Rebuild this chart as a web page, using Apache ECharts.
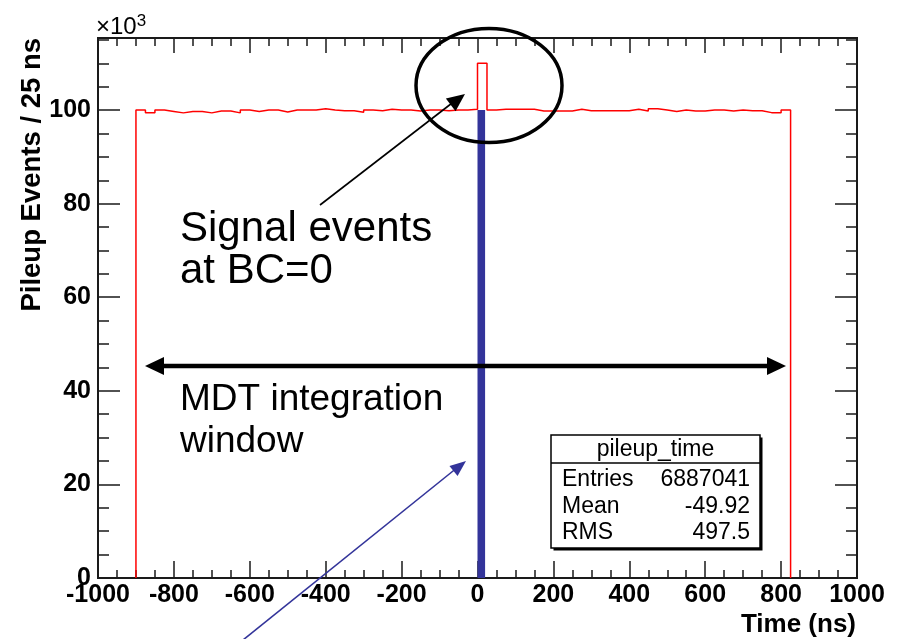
<!DOCTYPE html>
<html>
<head>
<meta charset="utf-8">
<script src="https://cdn.jsdelivr.net/npm/echarts@6/dist/echarts.min.js"></script>
<style>
  html, body { margin: 0; padding: 0; background: #fff; }
  #chart { width: 899px; height: 639px; }
</style>
</head>
<body>
<div id="chart"></div>
<script>
// Histogram of pileup event times, 25 ns bins, counts in thousands
const binLow = -900;
const binWidth = 25;
const counts = [
  100.0, 99.4, 100.0, 99.7, 99.4, 99.7, 99.7, 99.4, 99.8, 99.8,
  99.4, 100.0, 99.7, 100.0, 100.0, 99.6, 100.0, 100.0, 100.0, 100.3,
  100.0, 99.85, 99.85, 99.55, 100.0, 99.85, 100.15, 100.0, 100.0, 99.8,
  100.0, 100.0, 99.85, 100.0, 100.0, 100.15, 110.0, 100.0, 100.15, 100.15,
  100.15, 100.15, 99.8, 99.8, 99.8, 99.8, 100.15, 99.85, 99.85, 99.85,
  99.85, 99.85, 100.15, 99.8, 100.3, 100.0, 99.7, 100.0, 99.8, 99.8,
  100.0, 100.0, 99.8, 100.0, 99.85, 99.85, 99.45, 99.45, 100.0
];

// Signal bunch crossing (BC=0) bar
const signalRange = [0, 20];
const signalLevel = 100;

// Axis settings
const xRange = [-1000, 1000];
const xMajor = 200;
const yRange = [0, 115.4];
const yMajor = 20;
const yMinor = 5;

// Statistics box
const statsTitle = 'pileup_time';
const statsNames = ['Entries', 'Mean', 'RMS'];
const statsValues = ['6887041', '-49.92', '497.5'];

// Step outline points: each bin starts at its low edge
const outline = [[binLow, 0]];
counts.forEach((c, i) => outline.push([binLow + i * binWidth, c]));
const binHigh = binLow + counts.length * binWidth;
outline.push([binHigh, counts[counts.length - 1]]);
outline.push([binHigh, 0]);

const FONT = '"Liberation Sans", Arial, Helvetica, sans-serif';
const AX = '#1a1a1a';

const chart = echarts.init(document.getElementById('chart'), null, { renderer: 'canvas' });

function arrowHead(x1, y1, x2, y2, len, half) {
  const dx = x2 - x1, dy = y2 - y1;
  const d = Math.sqrt(dx * dx + dy * dy);
  const ux = dx / d, uy = dy / d;
  const bx = x2 - ux * len, by = y2 - uy * len;
  return [[x2, y2], [bx - uy * half, by + ux * half], [bx + uy * half, by - ux * half]];
}

const gLeft = 98, gTop = 38, gRight = 42, gBottom = 61;

const graphics = [];
// ellipse around the BC=0 peak
graphics.push({ type: 'ellipse', shape: { cx: 489, cy: 85.5, rx: 73, ry: 57 },
  style: { fill: 'none', stroke: '#000', lineWidth: 3.5 }, z: 20 });
// arrow pointing to the signal peak
graphics.push({ type: 'line', shape: { x1: 320, y1: 205, x2: 456, y2: 100 },
  style: { stroke: '#000', lineWidth: 1.6 }, z: 20 });
graphics.push({ type: 'polygon', shape: { points: arrowHead(320, 205, 465, 94, 18, 8) },
  style: { fill: '#000' }, z: 20 });
// double-headed arrow for the integration window
graphics.push({ type: 'line', shape: { x1: 160, y1: 366, x2: 770, y2: 366 },
  style: { stroke: '#000', lineWidth: 4.5 }, z: 20 });
graphics.push({ type: 'polygon', shape: { points: arrowHead(300, 366, 145, 366, 19, 9) },
  style: { fill: '#000' }, z: 20 });
graphics.push({ type: 'polygon', shape: { points: arrowHead(600, 366, 786, 366, 19, 9) },
  style: { fill: '#000' }, z: 20 });
// blue arrow
graphics.push({ type: 'line', shape: { x1: 243, y1: 640, x2: 458, y2: 467 },
  style: { stroke: '#33349a', lineWidth: 1.6 }, z: 20 });
graphics.push({ type: 'polygon', shape: { points: arrowHead(243, 640, 466, 461, 16, 6.5) },
  style: { fill: '#33349a' }, z: 20 });
// annotation texts
[['Signal events', 229, 42], ['at BC=0', 271, 42],
 ['MDT integration', 400, 37], ['window', 442, 37]].forEach(([t, y, s]) => {
  graphics.push({ type: 'text', x: 180, y: y, z: 21,
    style: { text: t, font: s + 'px ' + FONT, fill: '#000', textVerticalAlign: 'middle' } });
});

// exponent label
graphics.push({ type: 'text', x: 96, y: 42, z: 21,
  style: { text: '×10{s|3}', font: '24px ' + FONT, fill: '#000', textVerticalAlign: 'bottom',
    rich: { s: { fontSize: 17, fontFamily: FONT, verticalAlign: 'top', padding: [0, 0, 12, 0] } } } });

// axis titles
graphics.push({ type: 'text', x: 32, y: 38, rotation: Math.PI / 2, z: 21,
  style: { text: 'Pileup Events / 25 ns', font: 'bold 27.5px ' + FONT, fill: '#000',
    textAlign: 'right', textVerticalAlign: 'middle' } });
graphics.push({ type: 'text', x: 856, y: 625, z: 21,
  style: { text: 'Time (ns)', font: 'bold 26px ' + FONT, fill: '#000',
    textAlign: 'right', textVerticalAlign: 'middle' } });

// statistics box
const sb = { x: 551, y: 435, w: 209, h: 113, head: 28 };
graphics.push({ type: 'rect', shape: { x: sb.x + 2.5, y: sb.y + 2.5, width: sb.w, height: sb.h },
  style: { fill: '#000' }, z: 22 });
graphics.push({ type: 'rect', shape: { x: sb.x, y: sb.y, width: sb.w, height: sb.h },
  style: { fill: '#fff', stroke: '#000', lineWidth: 1.5 }, z: 23 });
graphics.push({ type: 'line', shape: { x1: sb.x, y1: sb.y + sb.head, x2: sb.x + sb.w, y2: sb.y + sb.head },
  style: { stroke: '#000', lineWidth: 1.5 }, z: 23 });
graphics.push({ type: 'text', x: sb.x + sb.w / 2, y: sb.y + sb.head / 2 + 1, z: 24,
  style: { text: statsTitle, font: '23px ' + FONT, fill: '#000', textAlign: 'center', textVerticalAlign: 'middle' } });
statsNames.forEach((n, i) => {
  const yy = sb.y + 45 + i * 26.5;
  graphics.push({ type: 'text', x: sb.x + 11, y: yy, z: 24,
    style: { text: n, font: '23px ' + FONT, fill: '#000', textAlign: 'left', textVerticalAlign: 'middle' } });
  graphics.push({ type: 'text', x: sb.x + sb.w - 10, y: yy, z: 24,
    style: { text: statsValues[i], font: '23px ' + FONT, fill: '#000', textAlign: 'right', textVerticalAlign: 'middle' } });
});

const hiddenLabel = { show: false };
const plainNumber = v => String(v);
const option = {
  animation: false,
  backgroundColor: '#fff',
  grid: { left: gLeft, top: gTop, right: gRight, bottom: gBottom, show: true,
    borderColor: AX, borderWidth: 2, backgroundColor: 'transparent', z: 5 },
  xAxis: [
    { type: 'value', position: 'bottom', min: xRange[0], max: xRange[1], interval: xMajor,
      axisLine: { show: true, onZero: false, lineStyle: { color: AX, width: 2 } },
      axisTick: { show: true, inside: true, length: 17, lineStyle: { color: AX, width: 1.5 } },
      minorTick: { show: true, splitNumber: 4, length: 8, lineStyle: { color: AX, width: 1.5 } },
      splitLine: { show: false },
      axisLabel: { show: true, margin: 5, formatter: plainNumber, color: '#000', fontFamily: FONT, fontWeight: 'bold', fontSize: 25 } },
    { type: 'value', position: 'top', min: xRange[0], max: xRange[1], interval: xMajor,
      axisLine: { show: false, onZero: false },
      axisTick: { show: true, inside: true, length: 15, lineStyle: { color: AX, width: 1.5 } },
      minorTick: { show: true, splitNumber: 4, length: 8, lineStyle: { color: AX, width: 1.5 } },
      splitLine: { show: false }, axisLabel: hiddenLabel }
  ],
  yAxis: [
    { type: 'value', position: 'left', min: yRange[0], max: yRange[1], interval: yMajor,
      axisLine: { show: true, onZero: false, lineStyle: { color: AX, width: 2 } },
      axisTick: { show: true, inside: true, length: 22, lineStyle: { color: AX, width: 1.5 } },
      splitLine: { show: false },
      axisLabel: { show: true, margin: 7, showMaxLabel: false, formatter: plainNumber, color: '#000', fontFamily: FONT, fontWeight: 'bold', fontSize: 25 } },
    { type: 'value', position: 'left', min: yRange[0], max: yRange[1], interval: yMinor,
      axisLine: { show: false, onZero: false },
      axisTick: { show: true, inside: true, length: 11, lineStyle: { color: AX, width: 1.5 } },
      splitLine: { show: false }, axisLabel: hiddenLabel },
    { type: 'value', position: 'right', min: yRange[0], max: yRange[1], interval: yMajor,
      axisLine: { show: false, onZero: false },
      axisTick: { show: true, inside: true, length: 22, lineStyle: { color: AX, width: 1.5 } },
      splitLine: { show: false }, axisLabel: hiddenLabel },
    { type: 'value', position: 'right', min: yRange[0], max: yRange[1], interval: yMinor,
      axisLine: { show: false, onZero: false },
      axisTick: { show: true, inside: true, length: 11, lineStyle: { color: AX, width: 1.5 } },
      splitLine: { show: false }, axisLabel: hiddenLabel }
  ],
  series: [
    { name: 'pileup_time', type: 'line', step: 'end', data: outline,
      xAxisIndex: 0, yAxisIndex: 0, showSymbol: false, symbol: 'none',
      lineStyle: { color: '#ff0000', width: 1.5 }, z: 6, silent: true },
    { name: 'BC=0', type: 'custom', xAxisIndex: 0, yAxisIndex: 0, z: 7, silent: true,
      data: [[signalRange[0], signalRange[1], signalLevel]],
      renderItem: function (params, api) {
        const p0 = api.coord([api.value(0), 0]);
        const p1 = api.coord([api.value(1), api.value(2)]);
        return { type: 'rect', shape: { x: p0[0], y: p1[1], width: p1[0] - p0[0], height: p0[1] - p1[1] },
          style: { fill: '#33349a' } };
      } }
  ],
  graphic: graphics
};
chart.setOption(option);
</script>
</body>
</html>
